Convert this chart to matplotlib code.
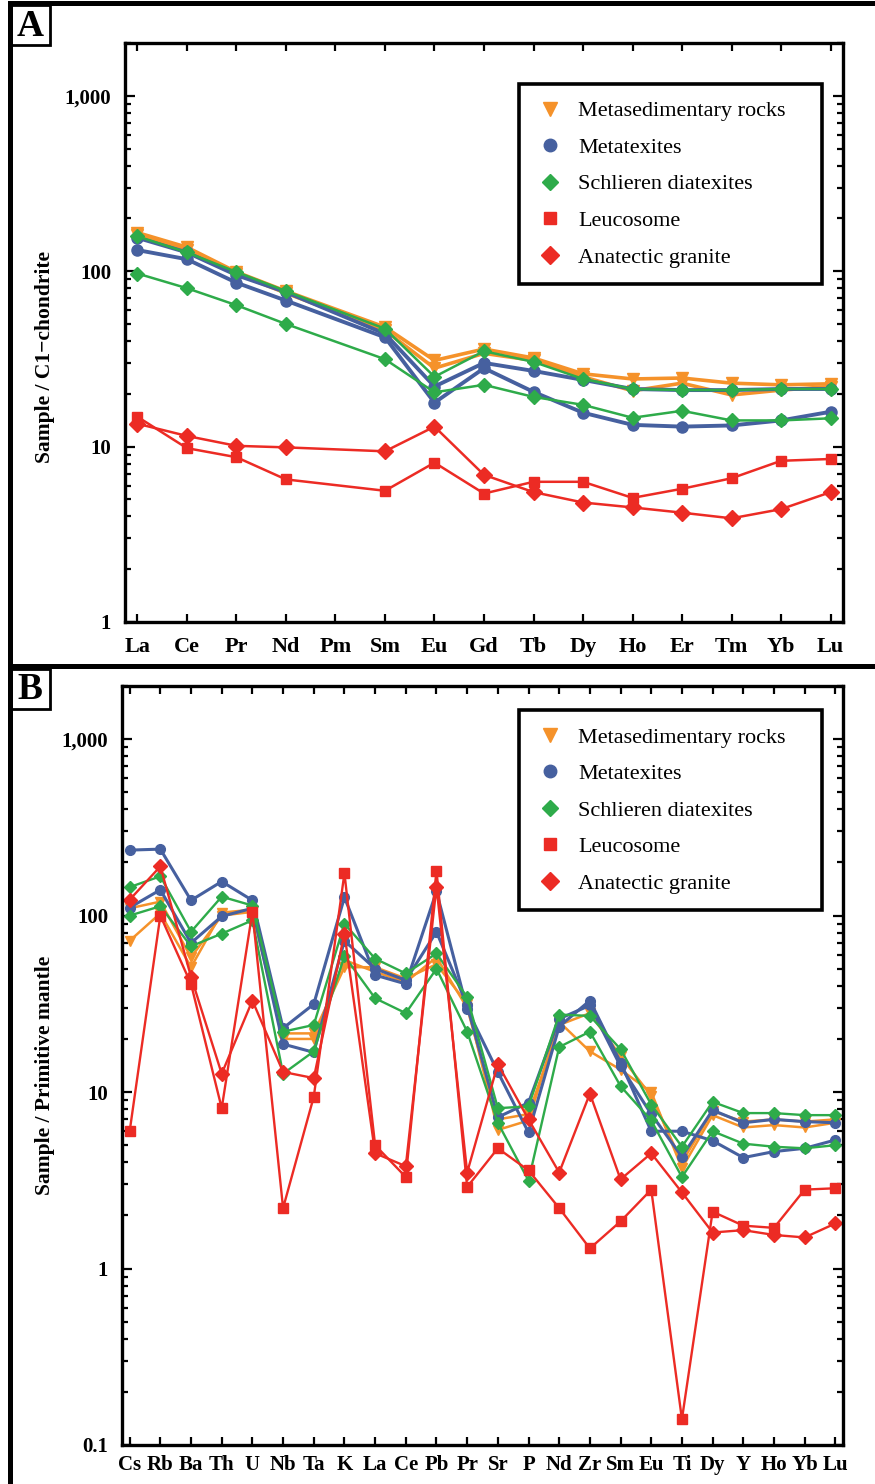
import numpy as np
import matplotlib
matplotlib.use('Agg')
import matplotlib.pyplot as plt
from matplotlib.lines import Line2D
from matplotlib.patches import Rectangle
from matplotlib.ticker import FixedLocator, FixedFormatter, LogLocator, NullFormatter

nan = np.nan

# ---- panel A : REE normalised to C1 chondrite ----
ree = ['La', 'Ce', 'Pr', 'Nd', 'Pm', 'Sm', 'Eu', 'Gd', 'Tb', 'Dy', 'Ho', 'Er', 'Tm', 'Yb', 'Lu']
metased_a1 = [166, 137, 99, 77, nan, 48, 31, 36, 32, 26, 24.3, 24.6, 23, 22.5, 22.8]
metased_a2 = [160, 132, 97, 75, nan, 46, 28, 34, 31, 25, 20.8, 23, 19.7, 21, 22]
metatex_a1 = [155, 128, 95, 76, nan, 44, 22, 30, 27, 24, 21.3, 21, 21, 21.3, 21.3]
metatex_a2 = [132, 117, 86, 68, nan, 42, 17.8, 28, 20.5, 15.6, 13.3, 13, 13.2, 14.1, 15.8]
schlieren_a1 = [158, 128, 99, 77, nan, 47, 25, 35, 30.4, 24.3, 21.3, 21, 21, 21.3, 21.3]
schlieren_a2 = [97, 80, 64, 50, nan, 31.5, 20.4, 22.5, 19.2, 17.3, 14.6, 16, 14.1, 14.1, 14.5]
leucosome_a = [14.8, 9.8, 8.7, 6.5, nan, 5.6, 8.1, 5.4, 6.3, 6.3, 5.1, 5.75, 6.6, 8.3, 8.5]
granite_a = [13.5, 11.5, 10.1, 9.9, nan, 9.4, 13, 6.9, 5.5, 4.8, 4.5, 4.2, 3.9, 4.4, 5.5]

# ---- panel B : trace elements normalised to primitive mantle ----
spider = ['Cs', 'Rb', 'Ba', 'Th', 'U', 'Nb', 'Ta', 'K', 'La', 'Ce', 'Pb', 'Pr', 'Sr', 'P',
          'Nd', 'Zr', 'Sm', 'Eu', 'Ti', 'Dy', 'Y', 'Ho', 'Yb', 'Lu']
metased_b1 = [72, 103, 51, 104, 108, 21.5, 21.5, 51, 51, 44, 53, 31.6, 6.1, 6.9, 25, 17, 13.4, 10, 3.7, 7.4, 6.3, 6.5, 6.3, 6.7]
metased_b2 = [110, 120, 58, 100, 105, 20, 20, 56, 48, 42, 58, 30, 7, 7.5, 24, 28, 16, 9.5, 4.0, 7.8, 6.8, 7.0, 6.8, 7.0]
metatex_b1 = [235, 238, 122, 156, 122, 23, 31.5, 127, 46, 41, 137, 29.5, 13, 5.9, 23.5, 33, 14.7, 6.0, 6.0, 5.3, 4.25, 4.6, 4.8, 5.35]
metatex_b2 = [111, 140, 70, 99, 110, 18.7, 16.8, 72, 50, 43, 81, 31, 7.2, 8.7, 26, 31, 14, 7.5, 4.3, 7.9, 6.7, 7.0, 6.8, 6.7]
schlieren_b1 = [145, 167, 81, 128, 114, 22, 24, 90, 57, 47, 61, 34.5, 8.1, 8.3, 27.5, 27, 17.5, 8.5, 4.9, 8.8, 7.6, 7.6, 7.4, 7.4]
schlieren_b2 = [100, 113, 67, 79, 94, 12.7, 17, 59, 34, 28, 50, 22, 6.7, 3.15, 18, 22, 10.8, 6.9, 3.3, 6.0, 5.1, 4.9, 4.8, 5.0]
leucosome_b = [6.0, 100, 41, 8.1, 105, 2.2, 9.4, 174, 5.0, 3.3, 180, 2.9, 4.8, 3.6, 2.2, 1.3, 1.85, 2.8, 0.14, 2.1, 1.75, 1.7, 2.8, 2.85]
granite_b = [123, 190, 45, 12.7, 33, 13, 12, 79, 4.5, 3.8, 146, 3.5, 14.4, 7.0, 3.5, 9.8, 3.2, 4.5, 2.7, 1.6, 1.65, 1.55, 1.5, 1.8]

legend_labels = ['Metasedimentary rocks', 'Metatexites', 'Schlieren diatexites', 'Leucosome', 'Anatectic granite']

ORANGE = '#f5922a'
BLUE = '#46609f'
GREEN = '#2eab4a'
RED = '#ec2b24'
SERIF = ['Liberation Serif', 'DejaVu Serif']

W, H = 875, 1484
plt.rcParams['font.family'] = SERIF


def px_rect(left, top, right, bottom):
    # pixel box (from top-left) -> figure fraction rect
    return [left / W, 1 - bottom / H, (right - left) / W, (bottom - top) / H]


def draw_series(ax, vals, color, marker, lw, ms):
    x = np.arange(len(vals))
    y = np.array(vals, dtype=float)
    ok = ~np.isnan(y)   # Pm has no value, join Nd straight to Sm
    ax.plot(x[ok], y[ok], color=color, marker=marker, lw=lw, ms=ms,
            markeredgecolor=color, solid_joinstyle='round')


def style_axes(ax, cats, ymin, label_size, xpad):
    ax.set_yscale('log')
    ax.set_xlim(-0.25, len(cats) - 0.75)
    ax.set_ylim(ymin, 2000)
    majors = [v for v in [0.1, 1, 10, 100, 1000] if v >= ymin]
    names = {0.1: '0.1', 1: '1', 10: '10', 100: '100', 1000: '1,000'}
    ax.yaxis.set_major_locator(FixedLocator(majors))
    ax.yaxis.set_major_formatter(FixedFormatter([names[v] for v in majors]))
    ax.yaxis.set_minor_locator(LogLocator(base=10, subs=np.arange(2, 10)))
    ax.yaxis.set_minor_formatter(NullFormatter())
    ax.set_xticks(np.arange(len(cats)))
    ax.set_xticklabels(cats)
    for s in ax.spines.values():
        s.set_linewidth(2.4)
    ax.tick_params(axis='both', which='both', direction='in', top=True, right=True, width=1.6)
    ax.tick_params(axis='y', which='major', length=7, pad=10, labelsize=15)
    ax.tick_params(axis='y', which='minor', length=4)
    ax.tick_params(axis='x', which='major', length=6, pad=xpad, labelsize=label_size)
    for t in ax.get_xticklabels() + ax.get_yticklabels():
        t.set_fontweight('bold')


def add_legend(ax, x0, top, width):
    handles = [
        Line2D([], [], ls='none', marker='v', color=ORANGE, ms=10),
        Line2D([], [], ls='none', marker='o', color=BLUE, ms=9),
        Line2D([], [], ls='none', marker='D', color=GREEN, ms=8),
        Line2D([], [], ls='none', marker='s', color=RED, ms=8),
        Line2D([], [], ls='none', marker='D', color=RED, ms=9),
    ]
    leg = ax.legend(handles, legend_labels, loc='upper left', bbox_to_anchor=(x0, 0, width, top),
                    mode='expand', fontsize=16, frameon=True, fancybox=False, borderaxespad=0,
                    borderpad=0.75, labelspacing=0.72, handlelength=1.3, handletextpad=0.6)
    fr = leg.get_frame()
    fr.set_edgecolor('black')
    fr.set_linewidth(2.6)
    fr.set_alpha(1)


fig = plt.figure(figsize=(W / 100, H / 100), dpi=100)

# ---- panel A ----
axA = fig.add_axes(px_rect(125, 43, 843, 622))
for vals in [metased_a1, metased_a2]:
    draw_series(axA, vals, ORANGE, 'v', 2.6, 9)
for vals in [metatex_a1, metatex_a2]:
    draw_series(axA, vals, BLUE, 'o', 2.8, 8)
for vals in [schlieren_a1, schlieren_a2]:
    draw_series(axA, vals, GREEN, 'D', 1.8, 7)
draw_series(axA, leucosome_a, RED, 's', 1.8, 7.5)
draw_series(axA, granite_a, RED, 'D', 1.8, 8)
style_axes(axA, ree, 1, 16, 11)
add_legend(axA, 0.549, 0.929, 0.422)

# ---- panel B ----
axB = fig.add_axes(px_rect(122, 686, 843, 1445))
for vals in [metased_b1, metased_b2]:
    draw_series(axB, vals, ORANGE, 'v', 1.8, 7.5)
for vals in [metatex_b1, metatex_b2]:
    draw_series(axB, vals, BLUE, 'o', 2.2, 7)
for vals in [schlieren_b1, schlieren_b2]:
    draw_series(axB, vals, GREEN, 'D', 1.7, 6)
draw_series(axB, leucosome_b, RED, 's', 1.7, 6.5)
draw_series(axB, granite_b, RED, 'D', 1.7, 7)
style_axes(axB, spider, 0.1, 15, 7)
add_legend(axB, 0.551, 0.968, 0.420)

# y axis titles
fig.text(45 / W, 1 - 357 / H, 'Sample / C1\u2212chondrite', rotation=90, ha='center', va='center',
         fontsize=15.5, fontweight='bold')
fig.text(45 / W, 1 - 1075 / H, 'Sample / Primitive mantle', rotation=90, ha='center', va='center',
         fontsize=15.5, fontweight='bold')

# outer panel frames + divider
lw_frame = 3.6
fig.add_artist(Line2D([10 / W, 1], [1 - 3 / H, 1 - 3 / H], color='black', lw=lw_frame))
fig.add_artist(Line2D([10 / W, 10 / W], [1 - 3 / H, 0], color='black', lw=lw_frame))
fig.add_artist(Line2D([10 / W, 1], [1 - 666 / H, 1 - 666 / H], color='black', lw=lw_frame))

# panel letters in little boxes
for letter, top in [('A', 5), ('B', 669)]:
    fig.add_artist(Rectangle((10 / W, 1 - (top + 40) / H), 40 / W, 40 / H, transform=fig.transFigure,
                             fill=False, edgecolor='black', lw=2.0))
    fig.text(30 / W, 1 - (top + 21) / H, letter, ha='center', va='center', fontsize=27, fontweight='bold')

fig.savefig('out.png', dpi=100)
